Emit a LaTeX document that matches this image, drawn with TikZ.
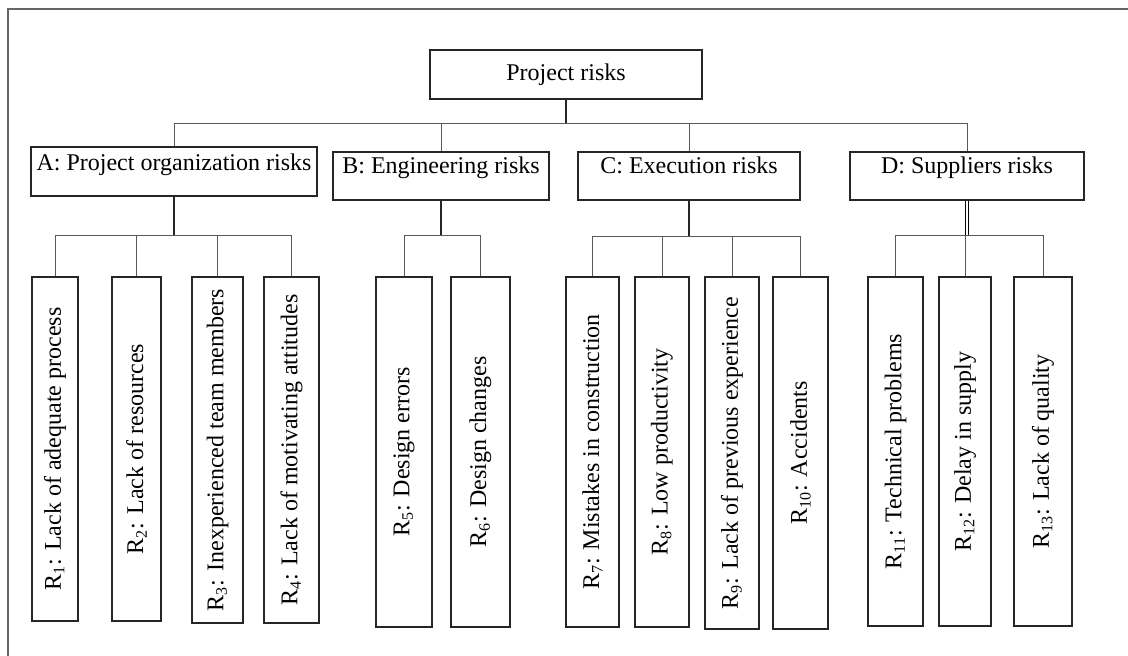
\documentclass[tikz,border=0pt]{standalone}
\usepackage{fontspec}
\setmainfont{Liberation Serif}
\tikzset{
  riskroot/.style={draw=black!85, line width=1pt, minimum width=136pt, minimum height=24.5pt, inner sep=0pt, font=\fontsize{12}{14}\selectfont},
  riskgroup/.style={draw=black!85, line width=1pt, anchor=north, inner sep=0pt, text height=11pt, text depth=13pt, font=\fontsize{12}{14}\selectfont},
  riskitem/.style={draw=black!85, line width=1pt, rotate=90, anchor=east, minimum width=175pt, minimum height=27pt, inner sep=0pt, font=\fontsize{12}{14}\selectfont},
  stem/.style={line width=0.8pt, draw=black!85},
  link/.style={line width=0.5pt, draw=black!65},
  frame/.style={line width=0.8pt, draw=black!60}
}

\begin{document}
\begin{tikzpicture}[x=0.5pt, y=-0.5pt]
  \useasboundingbox (0,0) rectangle (1128,656);
  \draw[frame] (8,656) -- (8,9) -- (1128,9);

  \node[riskroot] (root) at (566,74.5) {Project risks};

  \node[riskgroup, minimum width=143pt, text height=12pt, text depth=12.5pt] (catA) at (174,146) {A: Project organization risks};
  \node[riskgroup, minimum width=108pt] (catB) at (441,151) {B: Engineering risks};
  \node[riskgroup, minimum width=111pt] (catC) at (689,151) {C: Execution risks};
  \node[riskgroup, minimum width=117pt] (catD) at (967,151) {D: Suppliers risks};

  \node[riskitem, minimum width=172pt, minimum height=23pt] (r1) at (55,276) {R\textsubscript{1}: Lack of adequate process};
  \node[riskitem, minimum width=172pt, minimum height=24.5pt] (r2) at (136.5,276) {R\textsubscript{2}: Lack of resources};
  \node[riskitem, minimum width=173pt, minimum height=25.5pt] (r3) at (217.5,276) {R\textsubscript{3}: Inexperienced team members};
  \node[riskitem, minimum width=173pt, minimum height=27.5pt] (r4) at (291.5,276) {R\textsubscript{4}: Lack of motivating attitudes};

  \node[riskitem, minimum height=28pt] (r5) at (404,276) {R\textsubscript{5}: Design errors};
  \node[riskitem, minimum height=29.5pt] (r6) at (480.5,276) {R\textsubscript{6}: Design changes};

  \node[riskitem, minimum height=26.5pt] (r7) at (592.5,276) {R\textsubscript{7}: Mistakes in construction};
  \node[riskitem, minimum height=27pt] (r8) at (662,276) {R\textsubscript{8}: Low productivity};
  \node[riskitem, minimum width=176pt, minimum height=27pt] (r9) at (732,276) {R\textsubscript{9}: Lack of previous experience};
  \node[riskitem, minimum width=176pt, minimum height=27.5pt] (r10) at (800.5,276) {R\textsubscript{10}: Accidents};

  \node[riskitem, minimum width=174.5pt, minimum height=27.5pt] (r11) at (895.5,276) {R\textsubscript{11}: Technical problems};
  \node[riskitem, minimum width=174.5pt, minimum height=26pt] (r12) at (965,276) {R\textsubscript{12}: Delay in supply};
  \node[riskitem, minimum width=174.5pt, minimum height=29pt] (r13) at (1043,276) {R\textsubscript{13}: Lack of quality};

  \coordinate (busTop) at (566,124);
  \coordinate (busA) at (174,236);
  \coordinate (busB) at (441,236);
  \coordinate (busC) at (689,237);
  \coordinate (busD) at (967,236);

  \draw[stem] (root.south) -- (busTop);
  \foreach \c in {catA,catB,catC,catD}
    \draw[link] (busTop) -| (\c.north);

  \draw[stem] (catA.south) -- (busA);
  \draw[stem] (catB.south) -- (busB);
  \draw[stem] (catC.south) -- (busC);
  \draw[line width=0.5pt, double, double distance=0.8pt] (catD.south) -- (busD);

  \foreach \r in {r1,r2,r3,r4}
    \draw[link] (busA) -| (\r.east);
  \foreach \r in {r5,r6}
    \draw[link] (busB) -| (\r.east);
  \foreach \r in {r7,r8,r9,r10}
    \draw[link] (busC) -| (\r.east);
  \foreach \r in {r11,r12,r13}
    \draw[link] (busD) -| (\r.east);
\end{tikzpicture}
\end{document}
